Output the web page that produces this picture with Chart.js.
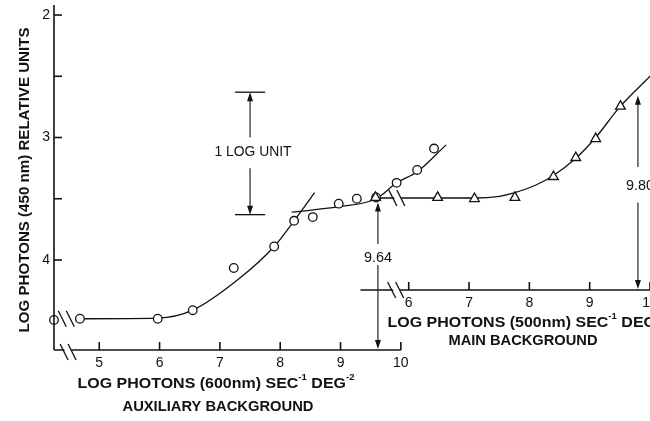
<!DOCTYPE html>
<html>
<head>
<meta charset="utf-8">
<script src="https://cdn.jsdelivr.net/npm/chart.js@4.4.0/dist/chart.umd.min.js"></script>
<style>
html, body { margin: 0; padding: 0; background: #fff; }
</style>
</head>
<body>
<canvas id="mycanvas" width="650" height="421"></canvas>
<script>
// auxiliary background (600 nm) - open circles
var auxX = [4.25, 4.68, 5.97, 6.55, 7.23, 7.90, 8.23, 8.54, 8.97, 9.27, 9.59, 9.93, 10.27, 10.55];
var auxY = [4.49, 4.48, 4.48, 4.41, 4.065, 3.89, 3.68, 3.65, 3.54, 3.50, 3.49, 3.37, 3.265, 3.09];

// main background (500 nm) - open triangles
var mainX = [5.45, 6.48, 7.09, 7.76, 8.40, 8.77, 9.10, 9.51];
var mainY = [3.49, 3.49, 3.50, 3.49, 3.32, 3.165, 3.01, 2.745];

// hand-drawn curves
var curveAX = [4.68, 5.97, 6.55, 7.3, 7.9, 8.23, 8.57];
var curveAY = [4.48, 4.475, 4.41, 4.16, 3.89, 3.68, 3.45];
var curveBX = [8.19, 8.97, 9.59, 9.93, 10.27, 10.75];
var curveBY = [3.61, 3.565, 3.50, 3.37, 3.28, 3.06];
var curveCX = [5.45, 6.5, 7.1, 7.5, 7.76, 8.1, 8.4, 8.77, 9.1, 9.5, 10.0];
var curveCY = [3.494, 3.494, 3.494, 3.48, 3.45, 3.39, 3.31, 3.17, 3.0, 2.75, 2.50];

// axes
var yTicks = [2, 2.5, 3, 3.5, 4];
var yLabels = ['2', '', '3', '', '4'];
var auxTicks = [5, 6, 7, 8, 9, 10];
var mainTicks = [6, 7, 8, 9, 10];

var INK = '#121212';
var FONT = '"Liberation Sans", Arial, sans-serif';

function pts(xs, ys) {
	var out = [];
	for (var i in xs) out.push({x: xs[i], y: ys[i]});
	return out;
}

function seg(c, x1, y1, x2, y2) {
	c.beginPath(); c.moveTo(x1, y1); c.lineTo(x2, y2); c.stroke();
}

function head(c, x, y, dir) {
	// dir -1: tip points up, 1: tip points down
	c.beginPath();
	c.moveTo(x, y);
	c.lineTo(x - 3, y - dir * 9);
	c.lineTo(x + 3, y - dir * 9);
	c.closePath();
	c.fill();
}

function breakMark(c, x, y) {
	c.save();
	c.fillStyle = '#fff';
	c.beginPath();
	c.moveTo(x - 8, y - 8); c.lineTo(x - 1, y - 8);
	c.lineTo(x + 8, y + 8); c.lineTo(x + 1, y + 8);
	c.closePath(); c.fill();
	c.restore();
	seg(c, x - 9, y - 8, x - 1, y + 8);
	seg(c, x - 1, y - 8, x + 7, y + 8);
}

function runs(c, parts, cx, cy, width, size, weight) {
	var f = weight + ' ' + size + 'px ' + FONT;
	var sf = weight + ' ' + Math.round(size * 0.62) + 'px ' + FONT;
	var total = 0;
	parts.forEach(function(p) { c.font = p[1] ? sf : f; total += c.measureText(p[0]).width; });
	c.save();
	c.translate(cx - width / 2, cy);
	c.scale(width / total, 1);
	c.textAlign = 'left';
	c.textBaseline = 'middle';
	var x = 0;
	parts.forEach(function(p) {
		c.font = p[1] ? sf : f;
		c.fillText(p[0], x, p[1] ? -size * 0.45 : 0);
		x += c.measureText(p[0]).width;
	});
	c.restore();
}

var figure = {
	id: 'figure',
	afterDatasetsDraw: function(chart) {
		var c = chart.ctx, a = chart.chartArea;
		var xa = chart.scales.xa, xm = chart.scales.xm, y = chart.scales.y;
		c.save();
		c.strokeStyle = INK; c.fillStyle = INK; c.lineWidth = 1.6;

		// y axis
		seg(c, a.left, a.top, a.left, a.bottom);
		c.font = '14px ' + FONT; c.textAlign = 'right'; c.textBaseline = 'middle';
		yTicks.forEach(function(t, i) {
			var py = y.getPixelForValue(t);
			seg(c, a.left, py, a.left + 8, py);
			if (yLabels[i]) c.fillText(yLabels[i], a.left - 4, py);
		});

		// auxiliary axis
		seg(c, a.left, a.bottom, xa.getPixelForValue(10), a.bottom);
		c.textAlign = 'center';
		auxTicks.forEach(function(t) {
			var px = xa.getPixelForValue(t);
			seg(c, px, a.bottom, px, a.bottom - 8);
			c.fillText(String(t), px, a.bottom + 13);
		});

		// main axis, drawn inside the plot
		var my = y.getPixelForValue(4.245);
		seg(c, xm.getPixelForValue(5.2), my, a.right, my);
		mainTicks.forEach(function(t) {
			var px = xm.getPixelForValue(t);
			seg(c, px, my, px, my - 8);
			c.fillText(String(t), px, my + 13);
		});

		// axis and curve breaks
		c.lineWidth = 1.3;
		breakMark(c, xa.getPixelForValue(4.5), a.bottom + 2);
		breakMark(c, xa.getPixelForValue(4.47), y.getPixelForValue(4.48));
		breakMark(c, xm.getPixelForValue(5.8), my);
		breakMark(c, xm.getPixelForValue(5.82), y.getPixelForValue(3.494));

		// 1 log unit bar
		var lx1 = xa.getPixelForValue(7.25), lx2 = xa.getPixelForValue(7.75), lx = xa.getPixelForValue(7.5);
		var t1 = y.getPixelForValue(2.63), t2 = y.getPixelForValue(3.63);
		seg(c, lx1, t1, lx2, t1);
		seg(c, lx1, t2, lx2, t2);
		c.lineWidth = 1.1;
		seg(c, lx, t1 + 6, lx, y.getPixelForValue(3.0));
		head(c, lx, t1, -1);
		seg(c, lx, y.getPixelForValue(3.25), lx, t2 - 6);
		head(c, lx, t2, 1);
		runs(c, [['1 LOG UNIT', 0]], lx + 3, y.getPixelForValue(3.12), 77, 14, 'normal');

		// 9.64 marker on auxiliary axis
		var ax = xa.getPixelForValue(9.62);
		var aTop = y.getPixelForValue(3.53);
		seg(c, ax, aTop + 6, ax, y.getPixelForValue(3.87));
		head(c, ax, aTop, -1);
		seg(c, ax, y.getPixelForValue(4.04), ax, a.bottom - 6);
		head(c, ax, a.bottom - 1, 1);
		runs(c, [['9.64', 0]], ax, y.getPixelForValue(3.985), 28, 14, 'normal');

		// 9.80 marker on main axis
		var bx = xm.getPixelForValue(9.8);
		var bTop = y.getPixelForValue(2.66);
		seg(c, bx, bTop + 6, bx, y.getPixelForValue(3.24));
		head(c, bx, bTop, -1);
		seg(c, bx, y.getPixelForValue(3.53), bx, my - 6);
		head(c, bx, my - 1, 1);
		runs(c, [['9.80', 0]], bx + 2, y.getPixelForValue(3.40), 28, 14, 'normal');

		// titles
		runs(c, [['LOG PHOTONS (600nm) SEC', 0], ['-1', 1], [' DEG', 0], ['-2', 1]], 216, 384, 277, 15, 'bold');
		runs(c, [['AUXILIARY BACKGROUND', 0]], 218, 407, 191, 15, 'bold');
		runs(c, [['LOG PHOTONS (500nm) SEC', 0], ['-1', 1], [' DEG', 0], ['-2', 1]], 526, 323, 277, 15, 'bold');
		runs(c, [['MAIN BACKGROUND', 0]], 523, 341, 149, 15, 'bold');

		c.save();
		c.translate(25, 180);
		c.rotate(-Math.PI / 2);
		runs(c, [['LOG PHOTONS (450 nm) RELATIVE UNITS', 0]], 0, 0, 305, 15, 'bold');
		c.restore();

		c.restore();
	}
};

var curveStyle = {
	showLine: true, pointRadius: 0, borderColor: INK, borderWidth: 1.3,
	cubicInterpolationMode: 'monotone', fill: false, order: 2
};

var ctx = document.getElementById('mycanvas');
var chart = new Chart(ctx, {
	type: 'scatter',
	data: {
		datasets: [
			Object.assign({label: 'curve A', data: pts(curveAX, curveAY), xAxisID: 'xa'}, curveStyle),
			Object.assign({label: 'curve B', data: pts(curveBX, curveBY), xAxisID: 'xa'}, curveStyle),
			Object.assign({label: 'curve C', data: pts(curveCX, curveCY), xAxisID: 'xm'}, curveStyle),
			{
				label: 'Auxiliary', data: pts(auxX, auxY), xAxisID: 'xa', order: 1, clip: false,
				pointStyle: 'circle', pointRadius: 4.3, borderWidth: 1.3,
				borderColor: INK, backgroundColor: '#fff'
			},
			{
				label: 'Main', data: pts(mainX, mainY), xAxisID: 'xm', order: 0, clip: false,
				pointStyle: 'triangle', pointRadius: 5.6, borderWidth: 1.3,
				borderColor: INK, backgroundColor: '#fff'
			}
		]
	},
	options: {
		responsive: false,
		animation: false,
		devicePixelRatio: 1,
		layout: {autoPadding: false, padding: {left: 54, right: 0, top: 5, bottom: 71}},
		plugins: {legend: {display: false}, tooltip: {enabled: false}},
		scales: {
			xa: {type: 'linear', position: 'bottom', display: false, min: 4.25, max: 14.13},
			xm: {type: 'linear', position: 'bottom', display: false, min: 0.12, max: 10.0},
			y: {type: 'linear', display: false, reverse: true, min: 1.918, max: 4.735}
		}
	},
	plugins: [figure]
});
</script>
</body>
</html>
